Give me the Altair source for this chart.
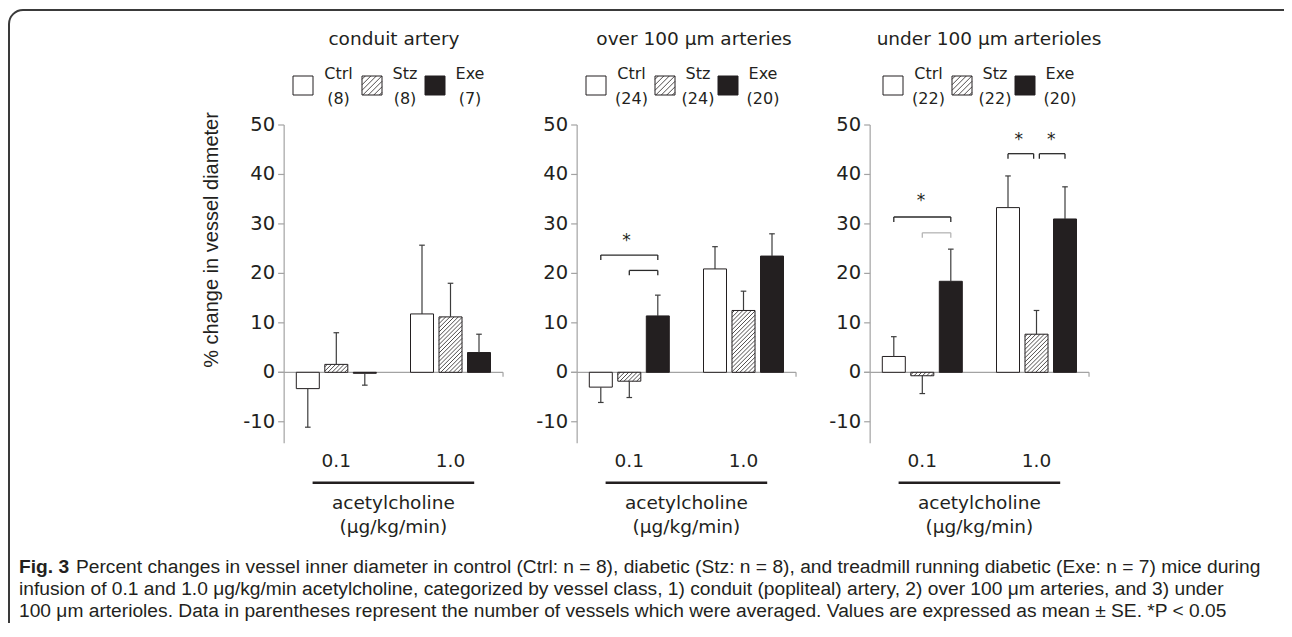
import altair as alt
import numpy as np
import pandas as pd

# ---------------- data ----------------
panel_titles = ["conduit artery", "over 100 μm arteries", "under 100 μm arterioles"]
doses = ["0.1", "1.0"]
groups = ["Ctrl", "Stz", "Exe"]
vessel_counts = [["(8)", "(8)", "(7)"], ["(24)", "(24)", "(20)"], ["(22)", "(22)", "(20)"]]

# order: dose 0.1 (Ctrl, Stz, Exe), dose 1.0 (Ctrl, Stz, Exe)
conduit_mean = [-3.3, 1.6, -0.2, 11.8, 11.2, 4.0]
conduit_se = [7.8, 6.4, 2.4, 13.9, 6.8, 3.7]
over100_mean = [-3.0, -1.8, 11.4, 20.9, 12.5, 23.5]
over100_se = [3.1, 3.3, 4.2, 4.5, 3.9, 4.5]
under100_mean = [3.2, -0.7, 18.4, 33.3, 7.7, 31.0]
under100_se = [4.0, 3.6, 6.5, 6.4, 4.8, 6.5]

y_ticks = [-10, 0, 10, 20, 30, 40, 50]
y_axis_min = -14.35

# significance brackets (panel, dose, from-group offset, to-group offset, level, shade)
sig_panel = [1, 1, 2, 2, 2, 2]
sig_dose = [0, 0, 0, 0, 1, 1]
sig_from = [-1, 0, -1, 0, -1, 0.1]
sig_to = [1, 1, 1, 1, -0.1, 1]
sig_level = [23.7, 20.6, 31.4, 28.2, 44.2, 44.2]
sig_shade = ["dark", "dark", "dark", "light", "dark", "dark"]
star_panel = [1, 2, 2, 2]
star_dose = [0, 0, 1, 1]
star_pos = [-0.1, -0.05, -0.62, 0.52]
star_level = [27.4, 35.4, 47.8, 47.8]

axis_title = "% change in vessel diameter"
x_title_1 = "acetylcholine"
x_title_2 = "(μg/kg/min)"
caption_bold = "Fig. 3"
caption_lines = [
    "Percent changes in vessel inner diameter in control (Ctrl: n = 8), diabetic (Stz: n = 8), and treadmill running diabetic (Exe: n = 7) mice during",
    "infusion of 0.1 and 1.0 μg/kg/min acetylcholine, categorized by vessel class, 1) conduit (popliteal) artery, 2) over 100 μm arteries, and 3) under",
    "100 μm arterioles. Data in parentheses represent the number of vessels which were averaged. Values are expressed as mean ± SE. *P < 0.05",
]

# ---------------- layout ----------------
W, H = 1276, 615
KX = 28.5          # px per bar slot
KY = 4.946         # px per percent
X_REF = 328.3      # px of first group centre
Y_ZERO = 364.3     # px of 0 %
PANEL_STEP = 293 / KX
DOSE_STEP = 114.2 / KX
AXIS_REL = -1.83
ZERO_END = 5.85
BAR_HALF = 11.5 / KX
CAP = 2.8 / KX
TICK = 6 / KX
xdom = [-X_REF / KX, (W - X_REF) / KX]
ydom = [-(H - Y_ZERO) / KY, Y_ZERO / KY]

INK = "#231f20"
GREY = "#a3a3a3"
FONT = "DejaVu Sans"
CAP_FONT = 19.2

xs = alt.Scale(domain=xdom, nice=False, zero=False)
ys = alt.Scale(domain=ydom, nice=False, zero=False)


def X(f):
    return alt.X(f, type="quantitative", scale=xs, axis=None)


def Y(f):
    return alt.Y(f, type="quantitative", scale=ys, axis=None)


def PX(f):
    return alt.X(f, type="quantitative", scale=None, axis=None)


def PY(f):
    return alt.Y(f, type="quantitative", scale=None, axis=None)


def hatch(w, h, sp):
    segs = []
    for d in np.arange(-h + sp * 0.6, w, sp):
        xa, xb = max(0.0, d), min(w, h + d)
        if xb - xa > 0.4:
            segs.append((xa, xa - d, xb, xb - d))
    return segs


means = [conduit_mean, over100_mean, under100_mean]
ses = [conduit_se, over100_se, under100_se]

rows, hrows = [], []
for p in range(3):
    for d in range(2):
        for g in range(3):
            i = d * 3 + g
            m, s = means[p][i], ses[p][i]
            xc = p * PANEL_STEP + d * DOSE_STEP + (g - 1)
            sign = 1 if m >= 0 else -1
            y0, y1 = min(0, m), max(0, m)
            rows.append(dict(group=groups[g], mean=m, xc=xc, xl=xc - BAR_HALF, xr=xc + BAR_HALF,
                             y0=y0, y1=y1, end=m + sign * s, cl=xc - CAP, cr=xc + CAP))
            if g == 1:
                w_px = 2 * BAR_HALF * KX
                h_px = (y1 - y0) * KY
                for (a, b, c, e) in hatch(w_px, h_px, 4.2):
                    hrows.append(dict(x1=xc - BAR_HALF + a / KX, y1=y0 + b / KY,
                                      x2=xc - BAR_HALF + c / KX, y2=y0 + e / KY))
bars = pd.DataFrame(rows)
hatches = pd.DataFrame(hrows)

# axes
ax_rows, tick_rows, zero_rows = [], [], []
for p in range(3):
    ax = p * PANEL_STEP + AXIS_REL
    ax_rows.append(dict(ax=ax, lo=y_axis_min, hi=max(y_ticks)))
    for v in y_ticks:
        tick_rows.append(dict(t0=ax - TICK, t1=ax, lx=ax - 9 / KX, v=v, label=str(v)))
    zero_rows.append(dict(z0=ax - TICK, z1=p * PANEL_STEP + ZERO_END, zero=0, drop=-0.9))
axes_df = pd.DataFrame(ax_rows)
ticks_df = pd.DataFrame(tick_rows)
zero_df = pd.DataFrame(zero_rows)

# dose labels & underline
dose_rows, ul_rows = [], []
for p in range(3):
    for d in range(2):
        dose_rows.append(dict(gx=p * PANEL_STEP + d * DOSE_STEP, label=doses[d]))
    mid = p * PANEL_STEP + DOSE_STEP / 2
    ul_rows.append(dict(u0=mid - 80.8 / KX, u1=mid + 80.8 / KX, mid=mid))
dose_df = pd.DataFrame(dose_rows)
ul_df = pd.DataFrame(ul_rows)

# brackets
seg_rows = []
for p, d, f, t, lv, sh in zip(sig_panel, sig_dose, sig_from, sig_to, sig_level, sig_shade):
    base = p * PANEL_STEP + d * DOSE_STEP
    xa, xb = base + f, base + t
    drop = lv - 1.0
    seg_rows.append(dict(x1=xa, x2=xb, y1=lv, y2=lv, shade=sh))
    seg_rows.append(dict(x1=xa, x2=xa, y1=lv, y2=drop, shade=sh))
    seg_rows.append(dict(x1=xb, x2=xb, y1=lv, y2=drop, shade=sh))
seg_df = pd.DataFrame(seg_rows)
star_df = pd.DataFrame(dict(
    sx=[p * PANEL_STEP + d * DOSE_STEP + o for p, d, o in zip(star_panel, star_dose, star_pos)],
    sy=star_level))

# titles & legends (pixel layout)
title_px = [386, 686, 981]
legend_left = [285, 578, 875]
title_df = pd.DataFrame(dict(px=title_px, py=[31] * 3, label=panel_titles))
sq_rows, leg_txt, lh_rows = [], [], []
sq_off = [0, 69, 132]
txt_off = [45.5, 112, 177]
for p in range(3):
    for g in range(3):
        x0 = legend_left[p] + sq_off[g]
        sq_rows.append(dict(x0=x0, x1=x0 + 20, y0=68, y1=87, group=groups[g]))
        leg_txt.append(dict(px=legend_left[p] + txt_off[g], py=66, label=groups[g]))
        leg_txt.append(dict(px=legend_left[p] + txt_off[g], py=91, label=vessel_counts[p][g]))
        if g == 1:
            for (a, b, c, e) in hatch(20, 19, 5.5):
                lh_rows.append(dict(x1=x0 + a, y1=87 - b, x2=x0 + c, y2=87 - e))
sq_df = pd.DataFrame(sq_rows)
legtxt_df = pd.DataFrame(leg_txt)
lh_df = pd.DataFrame(lh_rows)

fill_scale = alt.Scale(domain=groups, range=["#ffffff", "#ffffff", INK])
one = pd.DataFrame({"a": [0]})

layers = [
    # frame
    alt.Chart(one).mark_rect(fillOpacity=0, stroke="#3a3a3a", strokeWidth=2, cornerRadius=14).encode(
        x=alt.value(1), x2=alt.value(1300), y=alt.value(2), y2=alt.value(680)),
    # y axes
    alt.Chart(axes_df).mark_rule(color=GREY, strokeWidth=1.2).encode(x=X("ax"), y=Y("lo"), y2="hi"),
    alt.Chart(ticks_df).mark_rule(color=GREY, strokeWidth=1.2).encode(x=X("t0"), x2="t1", y=Y("v")),
    alt.Chart(ticks_df).mark_text(font=FONT, fontSize=19.5, color=INK, align="right", baseline="middle").encode(
        x=X("lx"), y=Y("v"), text="label:N"),
    alt.Chart(zero_df).mark_rule(color=GREY, strokeWidth=1.2).encode(x=X("z0"), x2="z1", y=Y("zero")),
    alt.Chart(zero_df).mark_rule(color=GREY, strokeWidth=1.2).encode(x=X("z1"), y=Y("zero"), y2="drop"),
    # bars
    alt.Chart(bars).mark_rect(stroke=INK, strokeWidth=1).encode(
        x=X("xl"), x2="xr", y=Y("y0"), y2="y1",
        fill=alt.Fill("group:N", scale=fill_scale, legend=None)),
    alt.Chart(hatches).mark_rule(color=INK, strokeWidth=0.8).encode(x=X("x1"), x2="x2", y=Y("y1"), y2="y2"),
    # error bars
    alt.Chart(bars).mark_rule(color="#3c3c3c", strokeWidth=1.2).encode(x=X("xc"), y=Y("mean"), y2="end"),
    alt.Chart(bars).mark_rule(color="#3c3c3c", strokeWidth=1.2).encode(x=X("cl"), x2="cr", y=Y("end")),
    # significance
    alt.Chart(seg_df).mark_rule(strokeWidth=1.3).encode(
        x=X("x1"), x2="x2", y=Y("y1"), y2="y2",
        color=alt.Color("shade:N", scale=alt.Scale(domain=["dark", "light"], range=["#2a2a2a", "#b5b5b5"]), legend=None)),
    alt.Chart(star_df).mark_text(text="*", font=FONT, fontSize=17, color=INK, baseline="middle", dy=4).encode(
        x=X("sx"), y=Y("sy")),
    # dose labels & x title
    alt.Chart(dose_df).mark_text(font=FONT, fontSize=18.5, color=INK, baseline="middle").encode(
        x=X("gx"), y=alt.value(453), text="label:N"),
    alt.Chart(ul_df).mark_rule(color=INK, strokeWidth=2.5).encode(x=X("u0"), x2="u1", y=alt.value(474.7)),
    alt.Chart(ul_df).mark_text(text=x_title_1, font=FONT, fontSize=18.5, color=INK, baseline="middle").encode(
        x=X("mid"), y=alt.value(495)),
    alt.Chart(ul_df).mark_text(text=x_title_2, font=FONT, fontSize=18.5, color=INK, baseline="middle").encode(
        x=X("mid"), y=alt.value(519)),
    # y title
    alt.Chart(one).mark_text(text=axis_title, font="Liberation Sans", fontSize=20, color=INK, angle=270,
                             baseline="middle", align="center").encode(x=alt.value(204), y=alt.value(232)),
    # panel titles
    alt.Chart(title_df).mark_text(font=FONT, fontSize=18.5, color=INK, baseline="middle").encode(
        x=PX("px"), y=PY("py"), text="label:N"),
    # legends
    alt.Chart(sq_df).mark_rect(stroke=INK, strokeWidth=1).encode(
        x=PX("x0"), x2="x1", y=PY("y0"), y2="y1",
        fill=alt.Fill("group:N", scale=fill_scale, legend=None)),
    alt.Chart(lh_df).mark_rule(color=INK, strokeWidth=0.8).encode(x=PX("x1"), x2="x2", y=PY("y1"), y2="y2"),
    alt.Chart(legtxt_df).mark_text(font=FONT, fontSize=16, color=INK, baseline="middle").encode(
        x=PX("px"), y=PY("py"), text="label:N"),
    # caption
    alt.Chart(one).mark_text(text=caption_bold, font="Liberation Sans", fontWeight="bold", fontSize=CAP_FONT,
                             color=INK, align="left", baseline="middle").encode(x=alt.value(11), y=alt.value(559)),
    alt.Chart(pd.DataFrame(dict(px=[68, 11, 11], py=[559, 581, 603], label=caption_lines)))
    .mark_text(font="Liberation Sans", fontSize=CAP_FONT, color=INK, align="left", baseline="middle").encode(
        x=PX("px"), y=PY("py"), text="label:N"),
]

chart = alt.layer(*layers).properties(
    width=W, height=H, padding=0, autosize=alt.AutoSizeParams(type="none")
).configure_view(strokeWidth=0)

chart.save("out.html", embed_options={"renderer": "svg", "actions": False})
